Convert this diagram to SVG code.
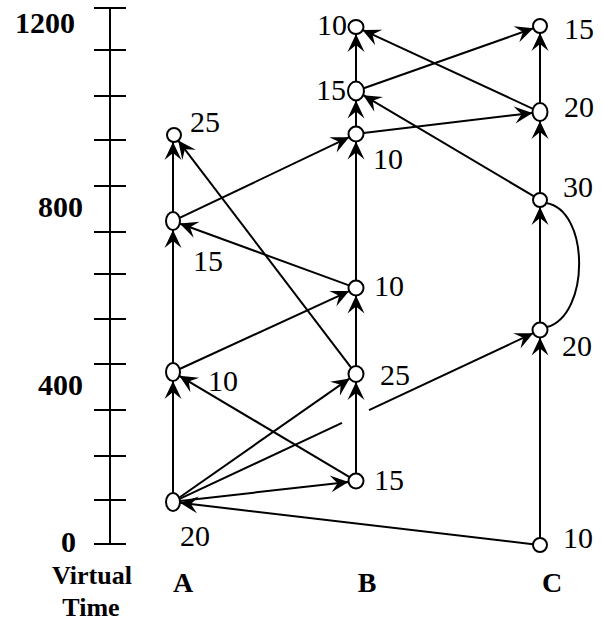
<svg xmlns="http://www.w3.org/2000/svg" width="603" height="622" viewBox="0 0 603 622">
<style>
.ln{stroke:#000;stroke-width:2;fill:none}
.ar{marker-end:url(#ah)}
.nd{fill:#fff;stroke:#000;stroke-width:2}
.lb{font-family:"Liberation Serif","DejaVu Serif","Times New Roman",serif;font-size:30px;font-weight:normal;fill:#000}
.ax{font-family:"Liberation Serif","DejaVu Serif","Times New Roman",serif;font-size:30px;font-weight:bold;fill:#000;text-anchor:end}
.pl{font-family:"Liberation Serif","DejaVu Serif","Times New Roman",serif;font-size:28px;font-weight:bold;fill:#000;text-anchor:middle}
.vt{font-family:"Liberation Serif","DejaVu Serif","Times New Roman",serif;font-size:26px;font-weight:bold;fill:#000;text-anchor:middle}
</style>
<defs>
<marker id="ah" markerUnits="userSpaceOnUse" markerWidth="22" markerHeight="20" viewBox="-20 -10 22 20" refX="0" refY="0" orient="auto" overflow="visible">
<path d="M0,0 L-18,-8.5 L-11,0 L-18,8.5 Z" fill="#000"/>
</marker>
</defs>
<rect width="603" height="622" fill="#fff"/>
<g id="axis">
<line class="ln" x1="110" y1="8" x2="110" y2="544"/>
<path class="ln" d="M94,8H126M94,50H126M94,96H126M94,140H126M94,186H126M94,232H126M94,274H126M94,319H126M94,364H126M94,410H126M94,456H126M94,500H126M94,544H126"/>
<text class="ax" x="75" y="33">1200</text>
<text class="ax" x="83" y="217">800</text>
<text class="ax" x="83" y="395">400</text>
<text class="ax" x="76" y="552">0</text>
<text class="vt" x="92" y="584">Virtual</text>
<text class="vt" x="91" y="616">Time</text>
</g>
<g id="process-labels">
<text class="pl" x="183" y="592">A</text>
<text class="pl" x="367" y="592">B</text>
<text class="pl" x="552" y="592">C</text>
</g>
<g id="connectors">
<line class="ln ar" x1="173" y1="493" x2="173" y2="381"/>
<line class="ln ar" x1="173" y1="363" x2="173" y2="230"/>
<line class="ln ar" x1="173" y1="212" x2="173" y2="142"/>
<line class="ln ar" x1="356" y1="473.5" x2="356" y2="382"/>
<line class="ln ar" x1="356" y1="366" x2="356" y2="295.5"/>
<line class="ln ar" x1="356" y1="280.5" x2="356" y2="141.5"/>
<line class="ln ar" x1="356" y1="126.5" x2="356" y2="100.5"/>
<line class="ln ar" x1="356" y1="81.5" x2="356" y2="34"/>
<line class="ln ar" x1="540" y1="538" x2="540" y2="337.5"/>
<line class="ln ar" x1="540" y1="322.5" x2="540" y2="207"/>
<line class="ln ar" x1="540" y1="193" x2="540" y2="121"/>
<line class="ln ar" x1="540" y1="103" x2="540" y2="33"/>
<line class="ln ar" x1="533" y1="544.2" x2="180" y2="502.8"/>
<line class="ln ar" x1="180" y1="501" x2="348.5" y2="481.9"/>
<line class="ln ar" x1="179.1" y1="497.7" x2="349.7" y2="378.4"/>
<line class="ln" x1="179.6" y1="498.9" x2="342" y2="422.8"/>
<line class="ln ar" x1="369" y1="410.1" x2="533.2" y2="333.2"/>
<line class="ln ar" x1="349.6" y1="477.2" x2="179.3" y2="375.8"/>
<line class="ln ar" x1="179.6" y1="369" x2="349.2" y2="291.1"/>
<line class="ln ar" x1="349" y1="285.4" x2="179.7" y2="223.5"/>
<line class="ln ar" x1="351.3" y1="367.8" x2="178.2" y2="140.6"/>
<line class="ln ar" x1="179.6" y1="217.9" x2="349.2" y2="137.2"/>
<line class="ln ar" x1="363.4" y1="133.1" x2="532.5" y2="112.9"/>
<line class="ln ar" x1="534" y1="196.4" x2="363.2" y2="95.2"/>
<line class="ln ar" x1="363.7" y1="88.3" x2="533.4" y2="28.3"/>
<line class="ln ar" x1="533" y1="108.8" x2="362.4" y2="29.9"/>
<path class="ln" d="M547,327 C590,315 590,210 546,203"/>
</g>
<g id="A0"><ellipse class="nd" cx="173" cy="502" rx="7" ry="9"/><text class="lb" x="180" y="546">20</text></g>
<g id="A1"><ellipse class="nd" cx="173" cy="372" rx="7" ry="9"/><text class="lb" x="208" y="391">10</text></g>
<g id="A2"><ellipse class="nd" cx="173" cy="221" rx="7" ry="9"/><text class="lb" x="193" y="271">15</text></g>
<g id="A3"><circle class="nd" cx="174" cy="135" r="7"/><text class="lb" x="190" y="132">25</text></g>
<g id="B0"><circle class="nd" cx="356" cy="481" r="7.5"/><text class="lb" x="374" y="490">15</text></g>
<g id="B1"><ellipse class="nd" cx="356" cy="374" rx="7.5" ry="8"/><text class="lb" x="380" y="385">25</text></g>
<g id="B2"><circle class="nd" cx="356" cy="288" r="7.5"/><text class="lb" x="374" y="296">10</text></g>
<g id="B3"><circle class="nd" cx="356" cy="134" r="7.5"/><text class="lb" x="373" y="169">10</text></g>
<g id="B4"><ellipse class="nd" cx="356" cy="91" rx="8" ry="9.5"/><text class="lb" x="316" y="100">15</text></g>
<g id="B5"><ellipse class="nd" cx="356" cy="27" rx="7.5" ry="7"/><text class="lb" x="317" y="35">10</text></g>
<g id="C0"><circle class="nd" cx="540" cy="545" r="7"/><text class="lb" x="563" y="548">10</text></g>
<g id="C1"><circle class="nd" cx="540" cy="330" r="7.5"/><text class="lb" x="562" y="356">20</text></g>
<g id="C2"><circle class="nd" cx="540" cy="200" r="7"/><text class="lb" x="563" y="197">30</text></g>
<g id="C3"><ellipse class="nd" cx="540" cy="112" rx="7.5" ry="9"/><text class="lb" x="564" y="117">20</text></g>
<g id="C4"><circle class="nd" cx="540" cy="26" r="7"/><text class="lb" x="564" y="39">15</text></g>
</svg>
